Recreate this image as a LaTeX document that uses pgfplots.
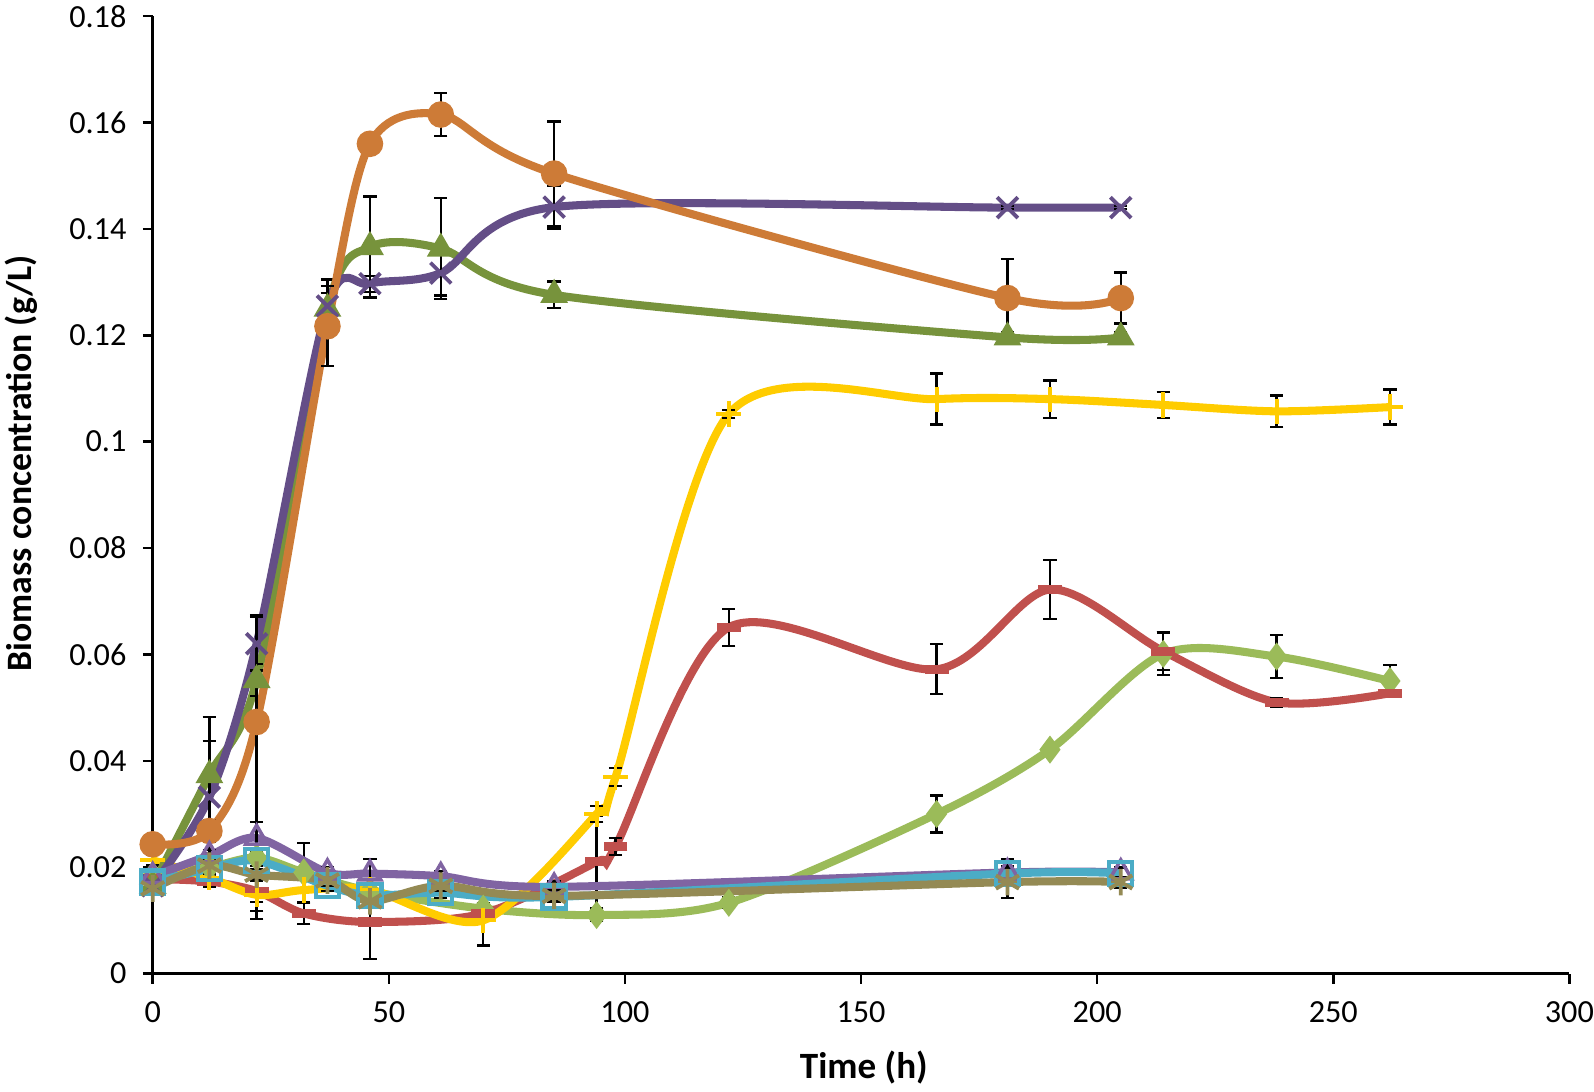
\documentclass[border=0pt]{standalone}
\usepackage{pgfplots}
\pgfplotsset{compat=1.18}
\usepackage{fontspec}
\setmainfont{Carlito}

\definecolor{cOrange}{RGB}{205,123,55}
\definecolor{cPurple}{RGB}{100,78,135}
\definecolor{cOlive}{HTML}{77933C}
\definecolor{cYellow}{HTML}{FFCC00}
\definecolor{cRed}{HTML}{C0504D}
\definecolor{cLime}{HTML}{9BBB59}
\definecolor{cLilac}{HTML}{8064A2}
\definecolor{cAqua}{HTML}{4BACC6}
\definecolor{cTan}{HTML}{948A54}

\pgfplotsset{
  serie/.style={smooth, line width=2.3pt,
    error bars/y dir=both, error bars/y explicit,
    error bars/error bar style={black, line width=0.65pt},
    error bars/error mark options={black, rotate=90, mark size=1.9pt, line width=0.65pt}},
}

\begin{document}
\begin{tikzpicture}
\begin{axis}[
    scale only axis,
    width=14.22cm, height=9.61cm,
    xmin=0, xmax=300, ymin=0, ymax=0.18,
    axis x line=bottom, axis y line=left,
    axis line style={-, line width=0.7pt},
    tick align=outside, major tick length=0.1cm,
    tick style={black, line width=0.7pt},
    xtick={0,50,100,150,200,250,300},
    ytick={0,0.02,0.04,0.06,0.08,0.1,0.12,0.14,0.16,0.18},
    yticklabel style={/pgf/number format/fixed, /pgf/number format/precision=2, xshift=-0.04cm},
    xticklabel style={yshift=-0.06cm},
    /pgf/number format/assume math mode=true,
    tick label style={font=\fontsize{9.2}{11}\selectfont},
    every axis y label/.style={at={(axis description cs:-0.093,0.533)}, rotate=90, anchor=center,
      font=\fontsize{10.2}{12}\selectfont\bfseries},
    every axis x label/.style={at={(axis description cs:0.502,-0.098)}, anchor=center,
      font=\fontsize{10.6}{12}\selectfont\bfseries},
    xlabel={Time (h)},
    ylabel={Biomass concentration (g/L)},
    clip=false,
]
% light green, diamonds
\addplot[serie, cLime, mark=diamond*, mark size=3.7pt, mark options={solid, line width=0.4pt, fill=cLime}]
coordinates {(0,0.0185) +- (0,0.001) (12,0.020) +- (0,0.001) (22,0.0218) +- (0,0.001) (32,0.019) +- (0,0.0055)
 (46,0.0155) +- (0,0.001) (70,0.0122) +- (0,0.001) (94,0.011) +- (0,0.001) (122,0.0133) +- (0,0.001)
 (166,0.030) +- (0,0.0035) (190,0.0421) +- (0,0.0005) (214,0.0601) +- (0,0.004) (238,0.0596) +- (0,0.004) (262,0.055) +- (0,0.003)};
% red, dashes
\addplot[serie, cRed, mark=-, mark size=3.4pt, mark options={solid, line width=2.6pt}]
coordinates {(0,0.0178) +- (0,0.001) (12,0.0173) +- (0,0.001) (22,0.0155) +- (0,0.002) (32,0.0113) +- (0,0.002)
 (46,0.0097) +- (0,0.007) (70,0.0113) +- (0,0.001) (94,0.021) +- (0,0.0087) (98,0.0239) +- (0,0.0016)
 (122,0.0651) +- (0,0.0035) (166,0.0572) +- (0,0.0047) (190,0.0722) +- (0,0.0055) (214,0.0606) +- (0,0.0035)
 (238,0.051) +- (0,0.0008) (262,0.0527) +- (0,0.0006)};
% yellow, plus
\addplot[serie, cYellow, mark=+, mark size=3.6pt, mark options={solid, line width=1.1pt}]
coordinates {(0,0.0213) +- (0,0.001) (12,0.018) +- (0,0.001) (22,0.0148) +- (0,0.003) (32,0.0157) +- (0,0.0025)
 (46,0.0158) +- (0,0.001) (70,0.010) +- (0,0.0047) (94,0.030) +- (0,0.0015) (98,0.0369) +- (0,0.0017)
 (122,0.1052) +- (0,0.0008) (166,0.108) +- (0,0.0048) (190,0.108) +- (0,0.0035) (214,0.1069) +- (0,0.0025)
 (238,0.1057) +- (0,0.003) (262,0.1065) +- (0,0.0033)};
% olive, triangles
\addplot[serie, cOlive, mark=triangle*, mark size=4.2pt, mark options={solid, line width=0.4pt, fill=cOlive}]
coordinates {(0,0.0165) +- (0,0.001) (12,0.0373) +- (0,0.011) (22,0.0552) +- (0,0.003) (37,0.125) +- (0,0.003)
 (46,0.1366) +- (0,0.0095) (61,0.1363) +- (0,0.0095) (85,0.1276) +- (0,0.0025) (181,0.1196) +- (0,0.001) (205,0.1196) +- (0,0.001)};
% dark purple, crosses
\addplot[serie, cPurple, mark=x, mark size=4.2pt, mark options={solid, line width=1.1pt}]
coordinates {(0,0.0165) +- (0,0.001) (12,0.0332) +- (0,0.0105) (22,0.062) +- (0,0.005) (37,0.1255) +- (0,0.005)
 (46,0.1297) +- (0,0.0015) (61,0.1317) +- (0,0.0042) (85,0.1441) +- (0,0.004) (181,0.144) +- (0,0.0003) (205,0.144) +- (0,0.0003)};
% orange, circles
\addplot[serie, cOrange, mark=*, mark size=3.6pt, mark options={solid, line width=0.4pt, fill=cOrange}]
coordinates {(0,0.0243) +- (0,0.002) (12,0.0268) +- (0,0.002) (22,0.0473) += (0,0.02) -= (0,0.037) (37,0.1217) +- (0,0.0075)
 (46,0.156) +- (0,0.001) (61,0.1615) +- (0,0.004) (85,0.1504) +- (0,0.0098) (181,0.127) +- (0,0.0073) (205,0.127) +- (0,0.0048)};
% lilac, open triangles
\addplot[serie, cLilac, mark=triangle, mark size=3.6pt, mark options={solid, line width=1pt}]
coordinates {(0,0.0183) +- (0,0.001) (12,0.0222) +- (0,0.001) (22,0.0255) +- (0,0.003) (37,0.019) +- (0,0.001)
 (46,0.0188) +- (0,0.0027) (61,0.0183) +- (0,0.001) (85,0.0163) +- (0,0.001) (181,0.019) +- (0,0.0025) (205,0.019) +- (0,0.001)};
% aqua, open squares
\addplot[serie, cAqua, mark=square, mark size=3.3pt, mark options={solid, line width=1.2pt}]
coordinates {(0,0.0172) +- (0,0.001) (12,0.0197) +- (0,0.001) (22,0.0212) +- (0,0.001) (37,0.0165) +- (0,0.001)
 (46,0.0147) +- (0,0.001) (61,0.0152) +- (0,0.001) (85,0.0144) +- (0,0.001) (181,0.0188) +- (0,0.001) (205,0.0188) +- (0,0.001)};
% tan, asterisks
\addplot[serie, cTan, mark=asterisk, mark size=3.8pt, mark options={solid, line width=1.1pt}]
coordinates {(0,0.016) +- (0,0.001) (12,0.0203) +- (0,0.001) (22,0.0186) +- (0,0.001) (37,0.0175) +- (0,0.001)
 (46,0.0136) +- (0,0.001) (61,0.0165) +- (0,0.001) (85,0.0146) +- (0,0.001) (181,0.0172) +- (0,0.003) (205,0.0172) +- (0,0.001)};
\end{axis}
\pgfresetboundingbox
\path[use as bounding box] (-1.533cm,-1.182cm) rectangle (14.467cm,9.772cm);
\end{tikzpicture}
\end{document}
